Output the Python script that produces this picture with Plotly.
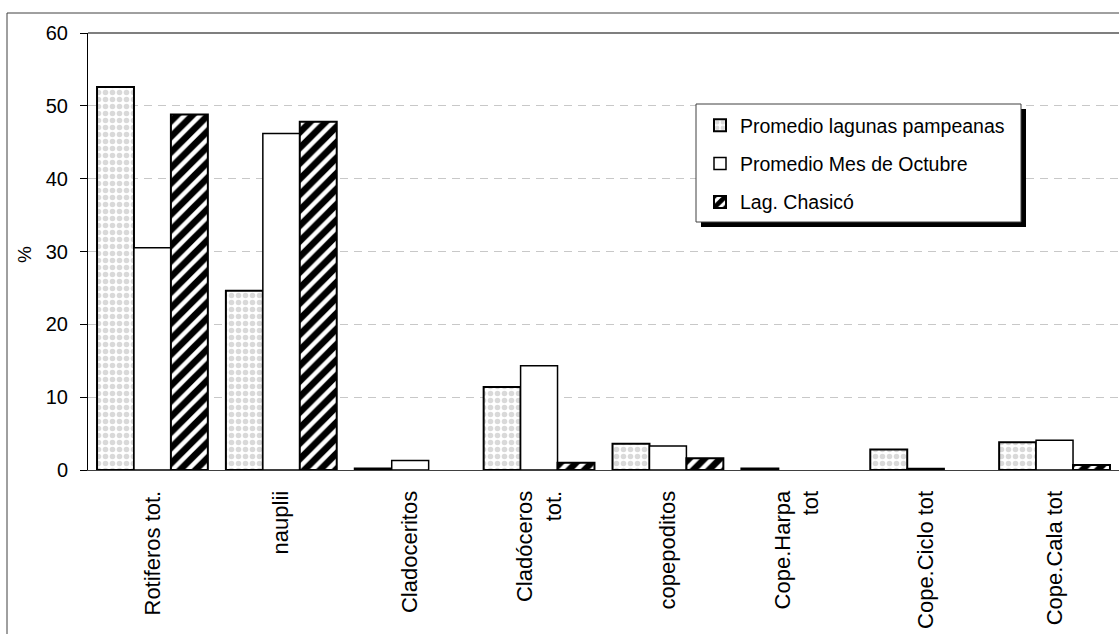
import plotly.graph_objects as go

categories = ["Rotiferos tot.", "nauplii", "Cladoceritos", "Cladóceros<br>tot.",
              "copepoditos", "Cope.Harpa<br>tot", "Cope.Ciclo tot", "Cope.Cala tot"]
pampeanas = [52.6, 24.6, 0.2, 11.4, 3.6, 0.2, 2.8, 3.8]
octubre = [30.5, 46.2, 1.3, 14.3, 3.3, 0.0, 0.2, 4.1]
chasico = [48.8, 47.8, 0.0, 1.0, 1.6, 0.0, 0.0, 0.7]
series_names = ["Promedio lagunas pampeanas", "Promedio Mes de Octubre", "Lag. Chasicó"]
y_ticks = [0, 10, 20, 30, 40, 50, 60]

W, H = 1119, 634
L, T, B, R = 88, 33, 164, 0
PW, PH = W - L - R, H - T - B

def px(x):
    return (x - L) / PW

def py(y):
    return (H - B - y) / PH

def visible(vals):
    # zero values draw no bar at all
    return [v if v > 0 else None for v in vals]

FONT = "Liberation Sans, Arial, sans-serif"

fig = go.Figure()
fig.add_trace(go.Bar(
    x=categories, y=visible(pampeanas), name=series_names[0], legendgroup="a",
    marker=dict(color="white", line=dict(color="black", width=2),
                pattern=dict(shape=".", fgcolor="#b4b4b4", bgcolor="white", size=7, solidity=0.5)),
))
fig.add_trace(go.Bar(
    x=categories, y=visible(octubre), name=series_names[1], legendgroup="b",
    marker=dict(color="white", line=dict(color="black", width=1.5)),
))
fig.add_trace(go.Bar(
    x=categories, y=visible(chasico), name=series_names[2], legendgroup="c",
    marker=dict(color="white", line=dict(color="black", width=2),
                pattern=dict(shape="/", fgcolor="black", bgcolor="white", size=11,
                             solidity=0.6, fgopacity=1)),
))

shapes = [
    # outer chart border
    dict(type="rect", xref="paper", yref="paper", x0=px(7), x1=px(1140), y0=py(13), y1=py(660),
         line=dict(color="#404040", width=1), fillcolor="rgba(0,0,0,0)", layer="below"),
    # plot area top line
    dict(type="line", xref="paper", yref="paper", x0=0, x1=1, y0=1, y1=1,
         line=dict(color="black", width=1.2)),
    # legend shadow and box
    dict(type="rect", xref="paper", yref="paper", x0=px(701), x1=px(1026), y0=py(109), y1=py(227),
         line=dict(width=0), fillcolor="black", layer="above"),
    dict(type="rect", xref="paper", yref="paper", x0=px(696), x1=px(1021), y0=py(104), y1=py(222),
         line=dict(color="#404040", width=1), fillcolor="white", layer="above"),
]

fig.update_layout(
    width=W, height=H,
    margin=dict(l=L, r=R, t=T, b=B, pad=0),
    paper_bgcolor="white", plot_bgcolor="white",
    font=dict(family=FONT, size=18, color="black"),
    barmode="group", bargap=0.14, bargroupgap=0,
    showlegend=True,
    legend=dict(x=px(700), y=py(106), xanchor="left", yanchor="top",
                bgcolor="rgba(0,0,0,0)", borderwidth=0,
                font=dict(family=FONT, size=19.5), tracegroupgap=10,
                traceorder="grouped"),
    shapes=shapes,
    annotations=[dict(text="%", xref="paper", yref="paper", x=px(25), y=py(255),
                      xanchor="center", yanchor="middle",
                      showarrow=False, textangle=-90, font=dict(family=FONT, size=19))],
    xaxis=dict(range=[-0.5, 7.5], showline=True, linecolor="#404040", linewidth=1,
               ticks="", tickangle=-90, tickfont=dict(family=FONT, size=22),
               ticklabelstandoff=11,
               showgrid=False, zeroline=False, fixedrange=True),
    yaxis=dict(range=[0, 60], tickvals=y_ticks, showline=True, linecolor="black", linewidth=1,
               ticks="outside", ticklen=7, tickcolor="black", tickwidth=1,
               tickfont=dict(family=FONT, size=20), ticklabelstandoff=8,
               showgrid=True, gridcolor="#c8c8c8", gridwidth=1, griddash="8px,6px",
               zeroline=False, fixedrange=True),
)

fig.write_html("out.html", config={"displayModeBar": False},
               post_script="document.body.style.margin='0px';")
